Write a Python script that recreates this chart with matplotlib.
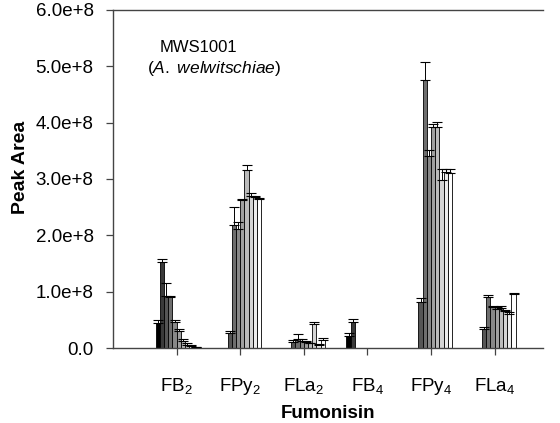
import matplotlib.pyplot as plt
from matplotlib.ticker import FuncFormatter, MultipleLocator

plt.rcParams["font.family"] = ["Liberation Sans", "DejaVu Sans"]
plt.rcParams["mathtext.fontset"] = "custom"
plt.rcParams["mathtext.rm"] = "Liberation Sans"
plt.rcParams["mathtext.it"] = "Liberation Sans:italic"
plt.rcParams["mathtext.bf"] = "Liberation Sans:bold"
plt.rcParams["mathtext.default"] = "regular"

# peak areas in units of 1e8, 10 samples per fumonisin
categories = ["FB$_2$", "FPy$_2$", "FLa$_2$", "FB$_4$", "FPy$_4$", "FLa$_4$"]
fb2 = [0.45, 1.53, 0.93, 0.90, 0.46, 0.30, 0.13, 0.05, 0.03, 0.01]
fpy2 = [0.0, 0.0, 0.27, 2.18, 2.11, 2.63, 3.16, 2.70, 2.68, 2.64]
fla2 = [0.0, 0.0, 0.11, 0.16, 0.13, 0.11, 0.08, 0.43, 0.06, 0.14]
fb4 = [0.21, 0.46, 0.0, 0.0, 0.0, 0.0, 0.0, 0.0, 0.0, 0.0]
fpy4 = [0.0, 0.0, 0.82, 4.75, 3.40, 3.93, 3.93, 2.98, 3.13, 3.10]
fla4 = [0.0, 0.0, 0.34, 0.90, 0.72, 0.70, 0.71, 0.65, 0.60, 0.95]

# upper error (1e8)
fb2_err = [0.05, 0.05, 0.23, 0.03, 0.04, 0.04, 0.03, 0.03, 0.02, 0.01]
fpy2_err = [0.0, 0.0, 0.03, 0.33, 0.13, 0.02, 0.08, 0.05, 0.02, 0.02]
fla2_err = [0.0, 0.0, 0.03, 0.08, 0.03, 0.02, 0.01, 0.03, 0.01, 0.04]
fb4_err = [0.05, 0.05, 0.0, 0.0, 0.0, 0.0, 0.0, 0.0, 0.0, 0.0]
fpy4_err = [0.0, 0.0, 0.06, 0.33, 0.12, 0.05, 0.09, 0.20, 0.05, 0.07]
fla4_err = [0.0, 0.0, 0.03, 0.04, 0.03, 0.03, 0.03, 0.03, 0.04, 0.03]

values = [fb2, fpy2, fla2, fb4, fpy4, fla4]
errors = [fb2_err, fpy2_err, fla2_err, fb4_err, fpy4_err, fla4_err]

fills = ["#000000", "#3a3a3a", "#555555", "#6e6e6e", "#888888",
         "#a0a0a0", "#bbbbbb", "#d4d4d4", "#ececec", "#ffffff"]

scale = 1e8
width = 0.066

fig = plt.figure(figsize=(5.6, 4.23), dpi=100)
ax = fig.add_axes([0.2018, 0.1773, 0.7678, 0.7991])

n = len(fills)
for k in range(n):
    xs = [i + (k - (n - 1) / 2) * width for i in range(len(categories))]
    hs = [values[i][k] * scale for i in range(len(categories))]
    es = [errors[i][k] * scale for i in range(len(categories))]
    ax.bar(xs, hs, width=width, color=fills[k], edgecolor="black",
           linewidth=0.6, zorder=2)
    for x, h, e in zip(xs, hs, es):
        if e > 0:
            ax.errorbar(x, h, yerr=[[0], [e]], fmt="none", ecolor="black",
                        elinewidth=0.7, capsize=3.4, capthick=0.8, zorder=3)

ax.set_xlim(-1.0, 5.76)
ax.set_ylim(0, 6e8)
ax.yaxis.set_major_locator(MultipleLocator(1e8))
ax.yaxis.set_major_formatter(
    FuncFormatter(lambda v, p: "0.0" if v == 0 else f"{v / 1e8:.1f}e+8"))
ax.set_xticks(range(len(categories)))
ax.set_xticklabels(categories)

ax.spines["right"].set_visible(False)
for side in ["left", "bottom", "top"]:
    ax.spines[side].set_color("#444444")
    ax.spines[side].set_linewidth(1.0)

ax.tick_params(axis="both", direction="out", length=5, width=0.9,
               color="#444444", labelsize=13.5)
ax.tick_params(axis="x", pad=15)
ax.tick_params(axis="y", pad=9)

ax.set_ylabel("Peak Area", fontsize=14, fontweight="bold")
ax.yaxis.set_label_coords(-0.195, 0.535)
ax.set_xlabel("Fumonisin", fontsize=13.5, fontweight="bold", labelpad=6)

ax.text(-0.27, 5.34e8, "MWS1001", fontsize=12, ha="left", va="center")
ax.text(-0.47, 4.97e8, r"($\it{A.\ welwitschiae}$)", fontsize=12.5,
        ha="left", va="center")

fig.savefig("out.png", dpi=100)
